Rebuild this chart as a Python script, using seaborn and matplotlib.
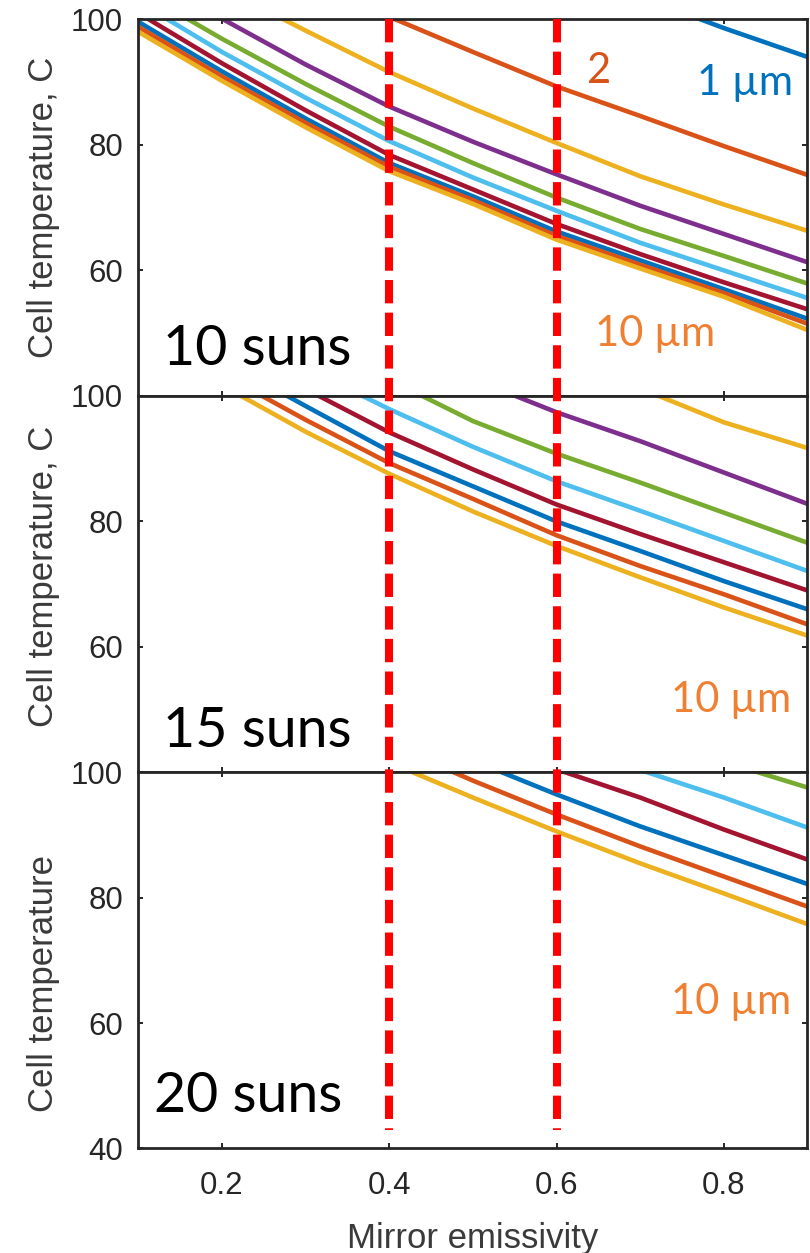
import pandas as pd
import matplotlib
matplotlib.use("Agg")
import matplotlib.pyplot as plt
from matplotlib.lines import Line2D
from matplotlib import transforms
import seaborn as sns

# mirror emissivity grid and cell temperatures (C) per layer thickness 1..10 um
emissivity = [0.1, 0.2, 0.3, 0.4, 0.5, 0.6, 0.7, 0.8, 0.9]
thickness = ["1", "2", "3", "4", "5", "6", "7", "8", "9", "10"]

N = None
temp_10suns = [
    [N, N, N, N, N, N, 103.6, 98.6, 94.0],
    [N, N, N, 100.4, 94.8, 89.3, 84.6, 79.8, 75.2],
    [N, 105.0, 98.2, 91.6, 85.8, 80.3, 75.0, 70.5, 66.3],
    [107.5, 100.1, 92.8, 86.1, 80.5, 75.3, 70.3, 65.8, 61.3],
    [104.6, 96.9, 89.7, 82.9, 77.1, 71.6, 66.6, 62.3, 57.9],
    [102.8, 94.8, 87.5, 80.6, 74.8, 69.5, 64.4, 60.0, 55.6],
    [101.0, 93.0, 85.5, 78.4, 72.9, 67.4, 62.6, 58.1, 53.8],
    [99.6, 91.7, 84.2, 77.1, 71.8, 66.2, 61.6, 57.0, 52.3],
    [98.8, 90.9, 83.5, 76.5, 71.2, 65.5, 60.9, 56.4, 51.5],
    [98.0, 90.2, 82.8, 75.8, 70.6, 64.9, 60.3, 55.8, 50.5],
]
temp_15suns = [
    [N] * 9,
    [N] * 9,
    [N, N, N, N, N, N, 101.2, 95.8, 91.7],
    [N, N, N, N, 102.7, 97.4, 92.8, 87.8, 82.8],
    [N, N, N, 102.6, 96.0, 90.8, 86.2, 81.4, 76.6],
    [N, N, 104.5, 97.9, 91.9, 86.4, 81.7, 76.9, 72.1],
    [N, N, 101.1, 94.2, 88.3, 82.7, 78.0, 73.5, 69.0],
    [N, 105.7, 98.4, 91.2, 85.6, 80.0, 75.3, 70.5, 66.0],
    [N, 103.5, 96.2, 89.3, 83.6, 77.8, 72.9, 68.4, 63.6],
    [N, 101.7, 94.3, 87.6, 81.6, 76.1, 71.1, 66.3, 61.8],
]
temp_20suns = [
    [N] * 9,
    [N] * 9,
    [N] * 9,
    [N] * 9,
    [N, N, N, N, N, N, N, 101.7, 97.6],
    [N, N, N, N, N, N, 100.4, 96.0, 91.2],
    [N, N, N, N, N, 100.5, 96.0, 90.9, 86.1],
    [N, N, N, N, 101.9, 96.5, 91.4, 86.8, 82.2],
    [N, N, N, 104.5, 98.7, 93.3, 88.2, 83.4, 78.6],
    [N, N, N, 101.6, 96.0, 90.6, 85.5, 80.7, 75.8],
]
panel_labels = ["10 suns", "15 suns", "20 suns"]
ylabels = ["Cell temperature, C", "Cell temperature, C", "Cell temperature"]
mirror_marks = [0.4, 0.6]

line_colors = ["#0072BD", "#D95319", "#EDB120", "#7E2F8E", "#77AC30",
               "#4DBEEE", "#A2142F", "#0072BD", "#D95319", "#EDB120"]
palette = dict(zip(thickness, line_colors))

sns.set_theme(style="ticks")
plt.rcParams["font.family"] = ["Liberation Sans", "DejaVu Sans"]
tick_grey = "#262626"
label_grey = "#3a3a3a"
gill = ["Lato", "DejaVu Sans"]

fig = plt.figure(figsize=(8.1, 12.53), dpi=100)
left, width = 0.1707, 0.8262
axes = [
    fig.add_axes([left, 0.6840, width, 0.3006]),
    fig.add_axes([left, 0.3835, width, 0.3005]),
    fig.add_axes([left, 0.0834, width, 0.3001]),
]

for i, (ax, temps) in enumerate(zip(axes, [temp_10suns, temp_15suns, temp_20suns])):
    rows = []
    for t, vals in zip(thickness, temps):
        for x, y in zip(emissivity, vals):
            if y is not None:
                rows.append({"emissivity": x, "temp": y, "thickness": t})
    df = pd.DataFrame(rows)
    sns.lineplot(data=df, x="emissivity", y="temp", hue="thickness",
                 palette=palette, estimator=None, errorbar=None,
                 linewidth=3.3, legend=False, ax=ax)

    ax.set_xlim(0.1, 0.9)
    ax.set_ylim(40, 100)
    ax.set_xticks([0.2, 0.4, 0.6, 0.8])
    ax.set_yticks([40, 60, 80, 100])
    if i < 2:
        ax.set_xticklabels([])
        ax.set_yticklabels(["", "60", "80", "100"])
        ax.set_xlabel("")
    else:
        ax.set_xticklabels(["0.2", "0.4", "0.6", "0.8"])
        ax.set_xlabel("Mirror emissivity", fontsize=25, color=label_grey, labelpad=15)
    ylab_y = [0.5, 0.52, 0.44][i]
    ax.set_ylabel(ylabels[i], fontsize=25, color=label_grey, labelpad=8, y=ylab_y)

    ax.tick_params(direction="in", length=3.6, width=1.4, top=True, right=True,
                   labelsize=22.5, colors=tick_grey, pad=11)
    ax.tick_params(axis="x", pad=16)
    for s in ax.spines.values():
        s.set_linewidth(2.0)
        s.set_color(tick_grey)
    ax.set_facecolor("white")

    ax.text([0.1296, 0.1296, 0.1188][i], [45.0, 44.0, 45.8][i], panel_labels[i],
            fontsize=40, color="black", family=gill, va="baseline", ha="left")

# thickness annotations
axes[0].text(0.637, 89.8, "2", fontsize=30, color="#D95319", family=gill, va="baseline")
axes[0].text(0.768, 88.0, "1 µm", fontsize=30, color="#0072BD", family=gill, va="baseline")
for ax, (x, y) in zip(axes, [(0.646, 48.0), (0.737, 49.6), (0.737, 61.4)]):
    ax.text(x, y, "10 µm", fontsize=30, color="#EF8032", family=gill, va="baseline")

# red dashed markers running through all three panels
trans = transforms.blended_transform_factory(axes[2].transData, fig.transFigure)
for xm in mirror_marks:
    fig.add_artist(Line2D([xm, xm], [0.985, 0.098], transform=trans, color="#FF0000",
                          linewidth=5.8, linestyle=(0, (2.9, 1.15)),
                          solid_capstyle="butt", dash_capstyle="butt", zorder=10))

fig.savefig("out.png", dpi=100, facecolor="white")
